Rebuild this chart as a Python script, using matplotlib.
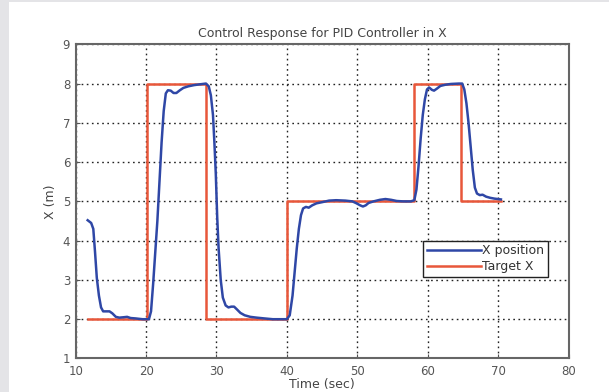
import numpy as np
import matplotlib
matplotlib.use('Agg')
import matplotlib.pyplot as plt
from matplotlib.patches import Rectangle

# target setpoint (step signal)
t_target = [11.8, 20.1, 20.1, 28.5, 28.5, 40.0, 40.0, 58.0, 58.0, 64.8, 64.8, 70.4]
x_target = [2, 2, 8, 8, 2, 2, 5, 5, 8, 8, 5, 5]

t_pos = [11.7, 12.2, 12.5, 12.75, 13.0, 13.3, 13.6, 13.9, 14.3, 14.8, 15.2, 15.7,
         16.2, 16.8, 17.3, 17.8, 18.5, 19.5, 20.4, 20.7, 21.0, 21.3, 21.6, 21.9,
         22.2, 22.5, 22.8, 23.1, 23.5, 23.9, 24.3, 24.8, 25.3, 26.0, 26.8, 27.6,
         28.5, 28.9, 29.2, 29.5, 29.7, 29.9, 30.1, 30.3, 30.6, 30.9, 31.3, 31.7,
         32.1, 32.5, 32.9, 33.4, 34.0, 34.8, 35.7, 36.8, 38.0, 40.0, 40.4, 40.8,
         41.1, 41.4, 41.7, 42.0, 42.3, 42.7, 43.1, 43.6, 44.2, 45.0, 46.0, 47.0,
         48.3, 49.3, 49.9, 50.4, 50.8, 51.2, 51.6, 52.3, 53.2, 54.0, 54.8, 55.6,
         56.5, 57.6, 58.1, 58.4, 58.7, 59.0, 59.3, 59.6, 59.9, 60.2, 60.6, 60.9,
         61.3, 61.8, 62.5, 63.3, 64.4, 64.9, 65.2, 65.5, 65.8, 66.1, 66.4, 66.7,
         67.0, 67.4, 67.8, 68.3, 68.9, 69.5, 70.0, 70.4]
x_pos = [4.52, 4.45, 4.3, 3.7, 3.05, 2.6, 2.3, 2.2, 2.2, 2.2, 2.15, 2.06,
         2.04, 2.05, 2.06, 2.03, 2.02, 2.0, 2.0, 2.2, 2.9, 3.7, 4.5, 5.5,
         6.5, 7.3, 7.75, 7.83, 7.82, 7.76, 7.76, 7.83, 7.89, 7.93, 7.96, 7.98,
         8.0, 7.93, 7.7, 7.2, 6.5, 5.7, 4.6, 3.8, 3.0, 2.55, 2.35, 2.3,
         2.32, 2.32, 2.25, 2.16, 2.1, 2.06, 2.04, 2.02, 2.0, 2.0, 2.1, 2.6,
         3.2, 3.8, 4.3, 4.65, 4.82, 4.86, 4.84, 4.9, 4.95, 4.98, 5.02, 5.03,
         5.02, 5.0, 4.95, 4.9, 4.87, 4.9, 4.96, 5.0, 5.04, 5.06, 5.04, 5.01,
         5.0, 5.0, 5.03, 5.3, 5.9, 6.6, 7.2, 7.6, 7.85, 7.9, 7.84, 7.82,
         7.87, 7.94, 7.97, 7.99, 8.0, 8.0, 7.85, 7.5, 7.0, 6.4, 5.8, 5.35,
         5.2, 5.16, 5.17, 5.12, 5.09, 5.07, 5.06, 5.05]

xticks = [10, 20, 30, 40, 50, 60, 70, 80]
yticks = [1, 2, 3, 4, 5, 6, 7, 8, 9]

fig = plt.figure(figsize=(6.09, 3.92), dpi=100)
fig.patch.set_facecolor('white')
# grey page frame on the left and top
fig.patches.append(Rectangle((0, 0), 9 / 609, 1, transform=fig.transFigure,
                             facecolor='#e4e4e7', edgecolor='none', zorder=0))
fig.patches.append(Rectangle((0, 1 - 2 / 392), 1, 2 / 392, transform=fig.transFigure,
                             facecolor='#e4e4e7', edgecolor='none', zorder=0))

ax = fig.add_axes([0.1243, 0.0855, 0.8092, 0.8015])
ax.plot(t_pos, x_pos, color='#2f47a6', lw=1.8, label='X position', zorder=3)
ax.plot(t_target, x_target, color='#e8573a', lw=1.8, label='Target X', zorder=2)

ax.set_xlim(10, 80)
ax.set_ylim(1, 9)
ax.set_xticks(xticks)
ax.set_yticks(yticks)
ax.grid(True, color='#222222', ls=(0, (1.2, 2.5)), lw=1.0)
ax.tick_params(direction='in', length=3, labelsize=8.5, colors='#555555')
ax.tick_params(axis='x', pad=5)
ax.tick_params(axis='y', pad=4)
for s in ax.spines.values():
    s.set_color('#666666')
    s.set_linewidth(1.5)

ax.set_title('Control Response for PID Controller in X', fontsize=9, color='#444444', pad=5)
ax.set_xlabel('Time (sec)', fontsize=9, color='#444444', labelpad=0)
ax.set_ylabel('X (m)', fontsize=9, color='#444444', labelpad=4)

leg = ax.legend(loc='upper left', bbox_to_anchor=(0.705, 0.375), fontsize=9,
                handlelength=4.3, handletextpad=0.1, borderpad=0.3, labelspacing=0.2,
                fancybox=False, framealpha=1, edgecolor='#222222', borderaxespad=0)
leg.get_frame().set_linewidth(1.0)
for txt in leg.get_texts():
    txt.set_color('#333333')

fig.savefig('out.png', dpi=100)
